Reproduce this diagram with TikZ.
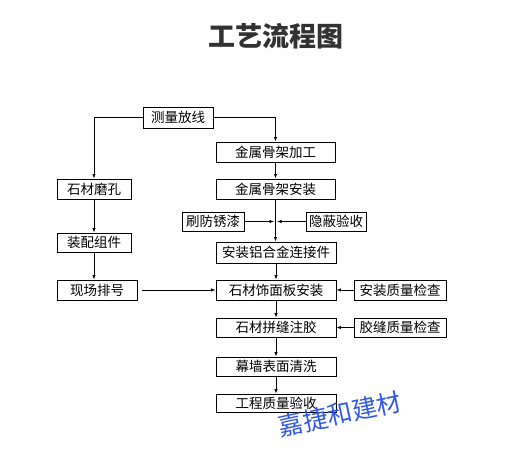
\documentclass[tikz,border=0pt]{standalone}
\usepackage{fontspec}
\newfontfamily\cjk{Noto Sans CJK SC}
\usetikzlibrary{arrows.meta}
\definecolor{wmblue}{RGB}{50,90,225}
\definecolor{titlegray}{RGB}{50,50,50}
\begin{document}
\begin{tikzpicture}[x=1pt,y=-1pt,
  box/.style={draw=black,line width=0.9pt,inner sep=0pt,font=\cjk\fontsize{13.5}{14}\selectfont},
  arr/.style={line width=0.8pt,-{Latex[length=4.5pt,width=3.5pt]}},
  ln/.style={line width=0.8pt}]
\useasboundingbox (0,0) rectangle (512,462);
\fill[white] (0,0) rectangle (512,462);
\node[font=\cjk\bfseries\fontsize{27}{29}\selectfont,text=titlegray] (title) at (276,36.5) {工艺流程图};
% boxes
\node[box,minimum width=70pt,minimum height=21pt] (cl) at (178,117.5) {测量放线};
\node[box,minimum width=119pt,minimum height=20pt] (jg) at (275.5,152) {金属骨架加工};
\node[box,minimum width=74pt,minimum height=20pt] (sm) at (94,189) {石材磨孔};
\node[box,minimum width=119pt,minimum height=20pt] (ja) at (275.5,189) {金属骨架安装};
\node[box,minimum width=62pt,minimum height=19pt] (sf) at (213,221.5) {刷防锈漆};
\node[box,minimum width=60pt,minimum height=19pt] (yb) at (336,221.5) {隐蔽验收};
\node[box,minimum width=120pt,minimum height=21pt] (lj) at (276,252.5) {安装铝合金连接件};
\node[box,minimum width=74pt,minimum height=19pt] (zp) at (94,242.5) {装配组件};
\node[box,minimum width=80pt,minimum height=20pt] (xc) at (97,290) {现场排号};
\node[box,minimum width=120pt,minimum height=20pt] (sc) at (276,290) {石材饰面板安装};
\node[box,minimum width=92pt,minimum height=20pt] (aq) at (400,290) {安装质量检查};
\node[box,minimum width=120pt,minimum height=19pt] (pf) at (276,327.5) {石材拼缝注胶};
\node[box,minimum width=92pt,minimum height=19pt] (jf) at (400,327.5) {胶缝质量检查};
\node[box,minimum width=120pt,minimum height=19pt] (mq) at (276,366.5) {幕墙表面清洗};
\node[box,minimum width=120pt,minimum height=18pt] (gc) at (276,403) {工程质量验收};
\coordinate (j) at (275.5,221.5);
% connectors
\draw[arr] (cl.east) -| (jg.north);
\draw[arr] (cl.west) -| (sm.north);
\draw[arr] (sm.south) -- (zp.north);
\draw[arr] (zp.south) -- (zp.south |- xc.north);
\draw[arr] (jg.south) -- (ja.north);
\draw[arr] (ja.south) -- (ja.south |- lj.north);
\draw[arr,shorten >=1.5pt] (sf.east) -- (j);
\draw[arr,shorten >=1.5pt] (yb.west) -- (j);
\draw[arr] (lj.south) -- (sc.north);
\draw[arr,shorten <=5pt] (xc.east) -- (sc.west);
\draw[arr] (aq.west) -- (sc.east);
\draw[arr] (sc.south) -- (pf.north);
\draw[arr] (jf.west) -- (pf.east);
\draw[arr] (pf.south) -- (mq.north);
\draw[arr] (mq.south) -- (gc.north);
% watermark
\node[font=\cjk\fontsize{25}{27}\selectfont,text=wmblue,rotate=12] (wm) at (340,414) {嘉捷和建材};
\end{tikzpicture}
\end{document}
